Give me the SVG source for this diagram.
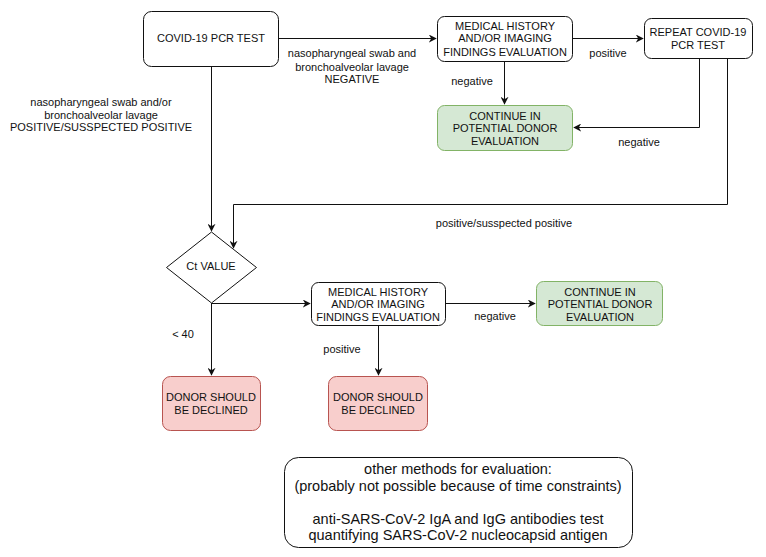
<svg xmlns="http://www.w3.org/2000/svg" width="766" height="557" viewBox="0 0 766 557">
<style>
text{font-family:"Liberation Sans",Arial,sans-serif;font-size:11px;fill:#111;text-anchor:middle}
.big{font-size:14.5px}
.box{fill:#fff;stroke:#111;stroke-width:1}
.green{fill:#d5e8d4;stroke:#82b366;stroke-width:1}
.red{fill:#f8cecc;stroke:#b85450;stroke-width:1}
.c{fill:none;stroke:#111;stroke-width:1}
</style>
<defs>
<marker id="ah" viewBox="0 0 10 10" refX="9" refY="5" markerWidth="8" markerHeight="8" markerUnits="userSpaceOnUse" orient="auto">
<path d="M0,0 L10,5 L0,10 L3,5 Z" fill="#111"/>
</marker>
</defs>
<g id="connectors">
<path class="c" d="M279,38.5 H436" marker-end="url(#ah)"/>
<path class="c" d="M573,38.5 H643" marker-end="url(#ah)"/>
<path class="c" d="M504.5,62 V104" marker-end="url(#ah)"/>
<path class="c" d="M699.5,58 V127.5 H574" marker-end="url(#ah)"/>
<path class="c" d="M727.5,58 V204.5 H233.5 V248" marker-end="url(#ah)"/>
<path class="c" d="M211.5,66 V231" marker-end="url(#ah)"/>
<path class="c" d="M211.5,303.5 H310" marker-end="url(#ah)"/>
<path class="c" d="M211.5,303 V375" marker-end="url(#ah)"/>
<path class="c" d="M446,303.5 H535" marker-end="url(#ah)"/>
<path class="c" d="M378.5,325 V375" marker-end="url(#ah)"/>
<text x="352" y="57">nasopharyngeal swab and</text>
<text x="352" y="71">bronchoalveolar lavage</text>
<text x="352" y="83">NEGATIVE</text>
<text x="608" y="57">positive</text>
<text x="472" y="85">negative</text>
<text x="639" y="146">negative</text>
<text x="504" y="227">positive/susspected positive</text>
<text x="101" y="106">nasopharyngeal swab and/or</text>
<text x="101" y="119">bronchoalveolar lavage</text>
<text x="101" y="131">POSITIVE/SUSSPECTED POSITIVE</text>
<text x="183" y="338">&lt; 40</text>
<text x="495" y="320">negative</text>
<text x="342" y="353">positive</text>
</g>
<g id="pcr"><rect class="box" x="143.5" y="11.5" width="135" height="55" rx="8"/><text x="211" y="42">COVID-19 PCR TEST</text></g>
<g id="medical1"><rect class="box" x="437.5" y="16.5" width="135" height="45" rx="7"/><text x="505" y="30">MEDICAL HISTORY</text><text x="505" y="42">AND/OR IMAGING</text><text x="505" y="56">FINDINGS EVALUATION</text></g>
<g id="repeat"><rect class="box" x="644.5" y="18.5" width="108" height="40" rx="7"/><text x="698" y="36">REPEAT COVID-19</text><text x="698" y="49">PCR TEST</text></g>
<g id="continue1"><rect class="green" x="437.5" y="105.5" width="135" height="45" rx="7"/><text x="505" y="120">CONTINUE IN</text><text x="505" y="132">POTENTIAL DONOR</text><text x="505" y="145">EVALUATION</text></g>
<g id="ct"><path class="box" d="M211.5,232 L256.5,267.5 L211.5,303 L166.5,267.5 Z"/><text x="211" y="270">Ct VALUE</text></g>
<g id="medical2"><rect class="box" x="311.5" y="282.5" width="134" height="43" rx="7"/><text x="378" y="296">MEDICAL HISTORY</text><text x="378" y="308">AND/OR IMAGING</text><text x="378" y="321">FINDINGS EVALUATION</text></g>
<g id="continue2"><rect class="green" x="536.5" y="281.5" width="126" height="44" rx="7"/><text x="600" y="296">CONTINUE IN</text><text x="600" y="308">POTENTIAL DONOR</text><text x="600" y="321">EVALUATION</text></g>
<g id="decline1"><rect class="red" x="162.5" y="376.5" width="98" height="54" rx="8"/><text x="211" y="401">DONOR SHOULD</text><text x="211" y="414">BE DECLINED</text></g>
<g id="decline2"><rect class="red" x="328.5" y="376.5" width="99" height="54" rx="8"/><text x="378" y="401">DONOR SHOULD</text><text x="378" y="414">BE DECLINED</text></g>
<g id="other"><rect class="box" x="284.5" y="457.5" width="348" height="90" rx="14"/>
<text class="big" x="458" y="474">other methods for evaluation:</text>
<text class="big" x="458" y="491">(probably not possible because of time constraints)</text>
<text class="big" x="458" y="524">anti-SARS-CoV-2 IgA and IgG antibodies test</text>
<text class="big" x="458" y="540">quantifying SARS-CoV-2 nucleocapsid antigen</text>
</g>
</svg>
